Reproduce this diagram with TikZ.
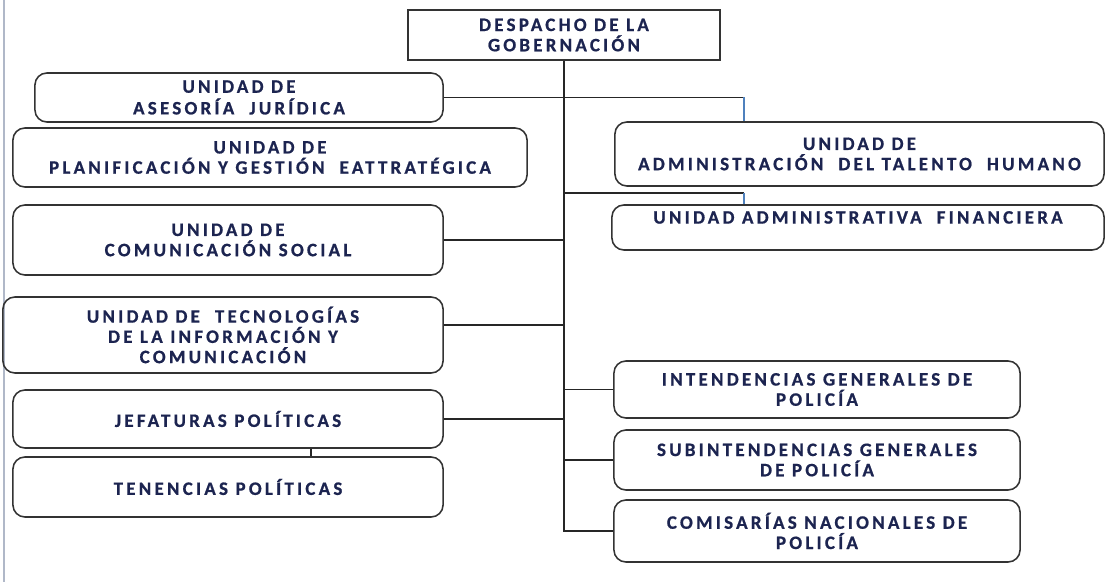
\documentclass[tikz,border=0pt]{standalone}
\usepackage{fontspec}
\setmainfont{Carlito}[LetterSpace=17, BoldFeatures={FakeBold=0.8}]
\definecolor{navy}{RGB}{28,36,80}
\definecolor{steel}{RGB}{79,129,189}
\definecolor{marco}{RGB}{176,184,200}
\tikzset{
	unidad/.style={draw=black!80, line width=1.1pt, rounded corners=8.5pt, align=center, text=navy,
		font=\bfseries\fontsize{13.5}{14.4}\selectfont, inner sep=0pt},
	despacho/.style={unidad, rounded corners=0pt},
	linea/.style={draw=black!85, line width=1.1pt},
	enlace/.style={draw=steel, line width=1.1pt}
}
\begin{document}
\begin{tikzpicture}[x=0.025cm,y=-0.025cm]
			\useasboundingbox (0,0) rectangle (1107,582);
			\draw[marco, line width=1.4pt] (4,0) -- (4,582);
			\node[despacho, minimum width=7.8cm, minimum height=1.25cm] (desp) at (564,35) {DESPACHO DE LA\\GOBERNACIÓN};
			\node[unidad, minimum width=10.2cm, minimum height=1.225cm] (ases) at (239,97.5) {UNIDAD DE\\[1pt]ASESORÍA\ \ JURÍDICA};
			\node[unidad, minimum width=12.85cm, minimum height=1.475cm] (plan) at (270,157.5) {UNIDAD DE\\PLANIFICACIÓN Y GESTIÓN\ \ EATTRATÉGICA};
			\node[unidad, minimum width=12.225cm, minimum height=1.6cm] (tal) at (859.5,154) {UNIDAD DE\\ADMINISTRACIÓN\ \ DEL TALENTO\ \ HUMANO};
			\node[unidad, minimum width=12.3cm, minimum height=1.125cm] (fin) at (858,227.5) {UNIDAD ADMINISTRATIVA\ \ FINANCIERA\\~};
			\node[unidad, minimum width=10.75cm, minimum height=1.75cm] (com) at (228,240) {UNIDAD DE\\COMUNICACIÓN SOCIAL};
			\node[unidad, minimum width=11cm, minimum height=1.9cm] (tec) at (223,335) {UNIDAD DE\ \ TECNOLOGÍAS\\DE LA INFORMACIÓN Y\\COMUNICACIÓN};
			\node[unidad, minimum width=10.75cm, minimum height=1.45cm] (jef) at (228,419) {JEFATURAS POLÍTICAS};
			\node[unidad, minimum width=10.75cm, minimum height=1.5cm] (ten) at (228,487) {TENENCIAS POLÍTICAS};
			\node[unidad, minimum width=10.15cm, minimum height=1.425cm] (int) at (817,389.5) {INTENDENCIAS GENERALES DE\\POLICÍA};
			\node[unidad, minimum width=10.15cm, minimum height=1.5cm] (sub) at (817,460) {SUBINTENDENCIAS GENERALES\\DE POLICÍA};
			\node[unidad, minimum width=10.15cm, minimum height=1.55cm] (comis) at (817,531) {COMISARÍAS NACIONALES DE\\POLICÍA};
			\coordinate (tap) at (744,0);
			\coordinate (fork) at (565,193);
			\coordinate (tick) at (311,0);
			\draw[linea] (desp.south) |- (comis.west);
			\draw[linea] (ases.east) -- (ases.east -| tap);
			\draw[enlace] (ases.east -| tap) -- (tap |- tal.north);
			\draw[linea] (fork) -- (fork -| tap);
			\draw[enlace] (fork -| tap) -- (tap |- fin.north);
			\draw[linea] (com.east) -- (com.east -| desp.south);
			\draw[linea] ([yshift=0.25cm]tec.east) -- ([yshift=0.25cm]tec.east -| desp.south);
			\draw[linea] (jef.east) -- (jef.east -| desp.south);
			\draw[linea] (jef.south -| tick) -- (ten.north -| tick);
			\draw[linea] (int.west) -- (int.west -| desp.south);
			\draw[linea] (sub.west) -- (sub.west -| desp.south);
		\end{tikzpicture}
\end{document}
